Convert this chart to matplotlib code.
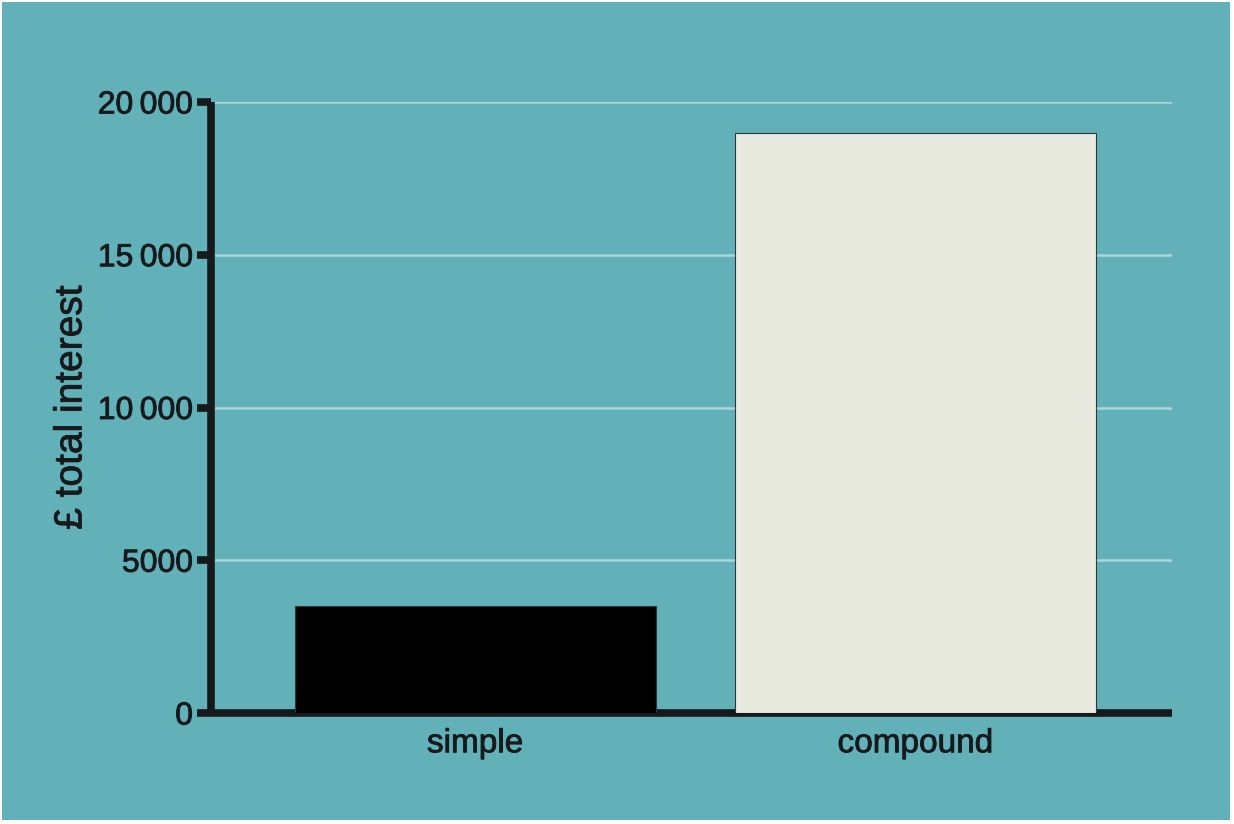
import matplotlib
matplotlib.use("Agg")
import matplotlib.pyplot as plt
import matplotlib.patheffects as pe
from matplotlib.patches import Rectangle

plt.rcParams['font.family'] = ['Liberation Sans', 'DejaVu Sans']

categories = ["simple", "compound"]
values = [3500, 19000]
bar_colors = ["#000000", "#e8e9df"]
yticks = [0, 5000, 10000, 15000, 20000]
ytick_labels = ["0", "5000", "10\u2009000", "15\u2009000", "20\u2009000"]

teal = "#63b1b8"
ink = "#161a1c"
heavier = [pe.withStroke(linewidth=0.6, foreground=ink)]

fig = plt.figure(figsize=(12.34, 8.24), dpi=100, facecolor="white")
# teal panel with a thin white margin
fig.patches.append(Rectangle((2 / 1234, 4 / 824), 1228 / 1234, 818 / 824,
                             transform=fig.transFigure, facecolor=teal,
                             edgecolor="none", zorder=-10))

ax = fig.add_axes([211 / 1234, 1 - 713 / 824, (1172 - 211) / 1234, (713 - 102) / 824])
ax.set_facecolor("none")
ax.set_zorder(1)

x = range(len(categories))
ax.bar(x, values, width=0.82, color=bar_colors, edgecolor="#2a3a3a",
       linewidth=0.8, zorder=3)

ax.set_xlim(-0.6, 1.583)
ax.set_ylim(0, 20000)

ax.set_yticks(yticks)
ax.set_yticklabels(ytick_labels)
ax.set_xticks(list(x))
ax.set_xticklabels(categories)

ax.yaxis.grid(True, color="#a9d6da", linewidth=1.8, zorder=0)
ax.set_axisbelow(True)

for side in ("top", "right"):
    ax.spines[side].set_visible(False)
for side in ("left", "bottom"):
    ax.spines[side].set_color(ink)
    ax.spines[side].set_linewidth(5.5)
    ax.spines[side].set_capstyle("butt")

ax.tick_params(axis="y", length=10, width=5.5, color=ink, labelsize=23,
               labelcolor=ink, pad=3)
ax.tick_params(axis="x", length=0, labelsize=24, labelcolor=ink, pad=11)

ax.set_ylabel("\u00a3 total interest", fontsize=28, color=ink, labelpad=6)

for t in ax.get_xticklabels() + ax.get_yticklabels() + [ax.yaxis.label]:
    t.set_path_effects(heavier)

fig.savefig("out.png", dpi=100, facecolor="white")
